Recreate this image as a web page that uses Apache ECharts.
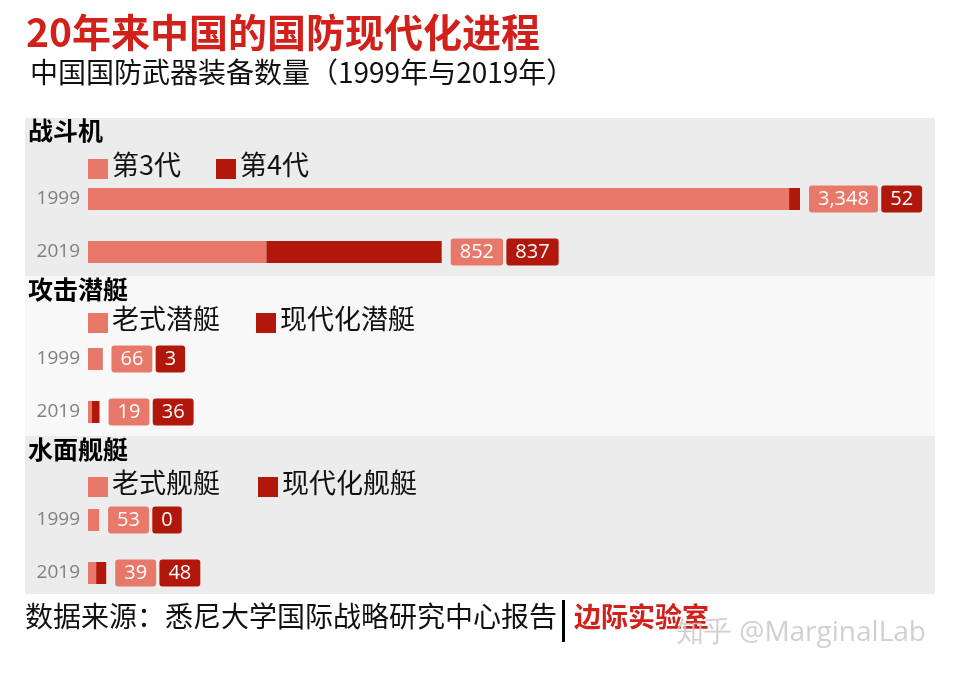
<!DOCTYPE html>
<html lang="zh">
<head>
<meta charset="UTF-8">
<title>20年来中国的国防现代化进程</title>
<style>
  html, body { margin: 0; padding: 0; background: #fff; }
  #main { width: 960px; height: 684px; }
</style>
<script src="https://cdn.jsdelivr.net/npm/echarts@6/dist/echarts.min.js"></script>
</head>
<body>
<div id="main"></div>
<script>
// 数据
var years = ['1999', '2019'];
var panelTitles = ['战斗机', '攻击潜艇', '水面舰艇'];
var oldNames = ['第3代', '老式潜艇', '老式舰艇'];
var newNames = ['第4代', '现代化潜艇', '现代化舰艇'];
var oldValues = [[3348, 852], [66, 19], [53, 39]];
var newValues = [[52, 837], [3, 36], [0, 48]];

var LIGHT = '#e8786a', DARK = '#b2170c';
var FONT = '"Noto Sans CJK SC", "Noto Sans", sans-serif';
var NUMFONT = '"Open Sans", "Noto Sans", sans-serif';
var chart = echarts.init(document.getElementById('main'));

var gridTops = [172.5, 332.5, 493.5];
var grids = [], xAxes = [], yAxes = [], series = [];

function fmt(n) { return n.toLocaleString('en-US'); }

for (var p = 0; p < 3; p++) {
  grids.push({ left: 88, right: 160, top: gridTops[p], height: 106 });
  xAxes.push({ gridIndex: p, type: 'value', min: 0, max: 3400, show: false });
  yAxes.push({
    gridIndex: p, type: 'category', data: years, inverse: true,
    axisLine: { show: false }, axisTick: { show: false },
    axisLabel: { color: '#808080', fontSize: 19, fontFamily: NUMFONT, margin: 8 }
  });
  series.push({
    type: 'bar', stack: 's' + p, xAxisIndex: p, yAxisIndex: p,
    barWidth: 22, data: oldValues[p], itemStyle: { color: LIGHT },
    silent: true
  });
  (function (pi) {
    series.push({
      type: 'bar', stack: 's' + pi, xAxisIndex: pi, yAxisIndex: pi,
      barWidth: 22, data: newValues[pi], itemStyle: { color: DARK },
      silent: true,
      label: {
        show: true, position: 'right', distance: 9,
        formatter: function (d) {
          return '{a|' + fmt(oldValues[pi][d.dataIndex]) + '} {b|' + fmt(newValues[pi][d.dataIndex]) + '}';
        },
        rich: {
          a: { backgroundColor: LIGHT, color: '#fff', fontSize: 20, fontFamily: NUMFONT, padding: [4, 9, 3, 9], borderRadius: 3 },
          b: { backgroundColor: DARK, color: '#fff', fontSize: 20, fontFamily: NUMFONT, padding: [4, 9, 3, 9], borderRadius: 3 }
        }
      }
    });
  })(p);
}

var graphics = [
  { type: 'rect', z: -10, shape: { x: 25, y: 118, width: 910, height: 158 }, style: { fill: '#ececec' } },
  { type: 'rect', z: -10, shape: { x: 25, y: 276, width: 910, height: 160 }, style: { fill: '#f8f8f8' } },
  { type: 'rect', z: -10, shape: { x: 25, y: 436, width: 910, height: 158 }, style: { fill: '#ececec' } },
  { type: 'text', left: 26, top: 13, style: { text: '20年来中国的国防现代化进程', fill: '#d2201b', font: 'bold 39px ' + FONT } },
  { type: 'text', left: 30, top: 58, style: { text: '中国国防武器装备数量（1999年与2019年）', fill: '#111', font: '28px ' + FONT } },
  { type: 'text', left: 25, top: 602, style: { text: '数据来源：悉尼大学国际战略研究中心报告', fill: '#111', font: '28px ' + FONT } },
  { type: 'rect', shape: { x: 562, y: 600, width: 3, height: 42 }, style: { fill: '#000' } },
  { type: 'text', left: 574, top: 603, style: { text: '边际实验室', fill: '#d2201b', font: 'bold 27px ' + FONT } },
  { type: 'text', left: 676, top: 619, style: { text: '知乎 @MarginalLab', fill: 'rgba(200,200,200,0.85)', font: '28px ' + NUMFONT } }
];
var titleY = [118, 277, 437];
var legendY = [169, 323, 487];
var legendX = [[88, 216], [88, 256], [88, 258]];
for (var i = 0; i < 3; i++) {
  graphics.push({ type: 'text', left: 28, top: titleY[i], style: { text: panelTitles[i], fill: '#000', font: 'bold 25px ' + FONT } });
  graphics.push({ type: 'rect', shape: { x: legendX[i][0], y: legendY[i] - 10, width: 20, height: 20 }, style: { fill: LIGHT } });
  graphics.push({ type: 'text', left: legendX[i][0] + 24, top: legendY[i] - 18, style: { text: oldNames[i], fill: '#111', font: '27px ' + FONT } });
  graphics.push({ type: 'rect', shape: { x: legendX[i][1], y: legendY[i] - 10, width: 20, height: 20 }, style: { fill: DARK } });
  graphics.push({ type: 'text', left: legendX[i][1] + 24, top: legendY[i] - 18, style: { text: newNames[i], fill: '#111', font: '27px ' + FONT } });
}

chart.setOption({
  backgroundColor: '#fff',
  animation: false,
  grid: grids,
  xAxis: xAxes,
  yAxis: yAxes,
  series: series,
  graphic: graphics
});
</script>
</body>
</html>
